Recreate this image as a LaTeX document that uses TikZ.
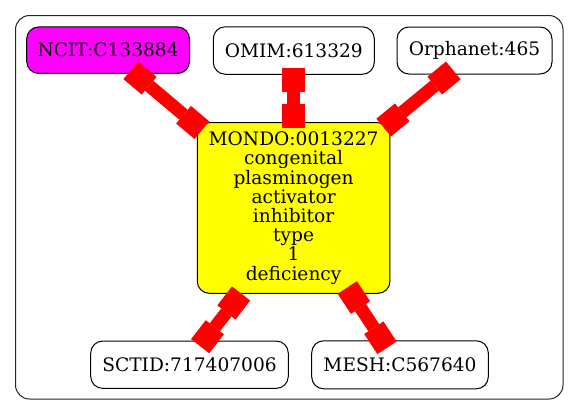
\documentclass[tikz,border=0pt]{standalone}
\usepackage{fontspec}
\setmainfont{DejaVu Serif}
\usetikzlibrary{arrows.meta,calc}
\definecolor{gvmagenta}{RGB}{255,0,255}
\definecolor{gvyellow}{RGB}{255,255,0}
\definecolor{gvred}{RGB}{255,0,0}
\begin{document}
\begin{tikzpicture}[x=1pt,y=-1pt,
  box/.style={draw=black,line width=1pt,rounded corners=12pt,inner sep=0pt,align=center,
    font=\fontsize{18.6}{19.2}\selectfont},
  link/.style={draw=gvred,line width=13pt,
    {Square[length=24pt,width=23pt,line width=0pt]}-{Square[length=24pt,width=23pt,line width=0pt]}}]
\useasboundingbox (0,0) rectangle (579,416);
\node[draw=black!85,line width=1pt,rounded corners=14pt,minimum width=547.5pt,minimum height=383.5pt,inner sep=0pt] (cluster) at (289.25,207.25) {};
\node[box,fill=gvmagenta,minimum width=162.8pt,minimum height=46.5pt] (ncit) at (108.1,50.2) {NCIT:C133884};
\node[box,fill=white,minimum width=161pt,minimum height=47.5pt] (omim) at (293.8,50.5) {OMIM:613329};
\node[box,fill=white,minimum width=155pt,minimum height=47pt] (orph) at (474.5,50.5) {Orphanet:465};
\node[box,fill=gvyellow,minimum width=192.7pt,minimum height=170.6pt] (mondo) at (293.6,208) {MONDO:0013227\\congenital\\plasminogen\\activator\\inhibitor\\type\\1\\deficiency};
\node[box,fill=white,minimum width=197.6pt,minimum height=47.3pt] (sctid) at (189.5,364.7) {SCTID:717407006};
\node[box,fill=white,minimum width=176.6pt,minimum height=48pt] (mesh) at (400,364.8) {MESH:C567640};
\draw[link] ($(ncit)+(22.7,20.1)$) -- ($(mondo)+(-91.7,-77.8)$);
\draw[link] ($(omim)+(-0.2,17.5)$) -- ($(mondo)+(0,-80)$);
\draw[link] ($(orph)+(-21.2,19.9)$) -- ($(mondo)+(90.1,-80.4)$);
\draw[link] ($(mondo)+(-52.5,85.5)$) -- ($(sctid)+(10.6,-18.5)$);
\draw[link] ($(mondo)+(53.7,79.5)$) -- ($(mesh)+(-13,-17)$);
\end{tikzpicture}
\end{document}
